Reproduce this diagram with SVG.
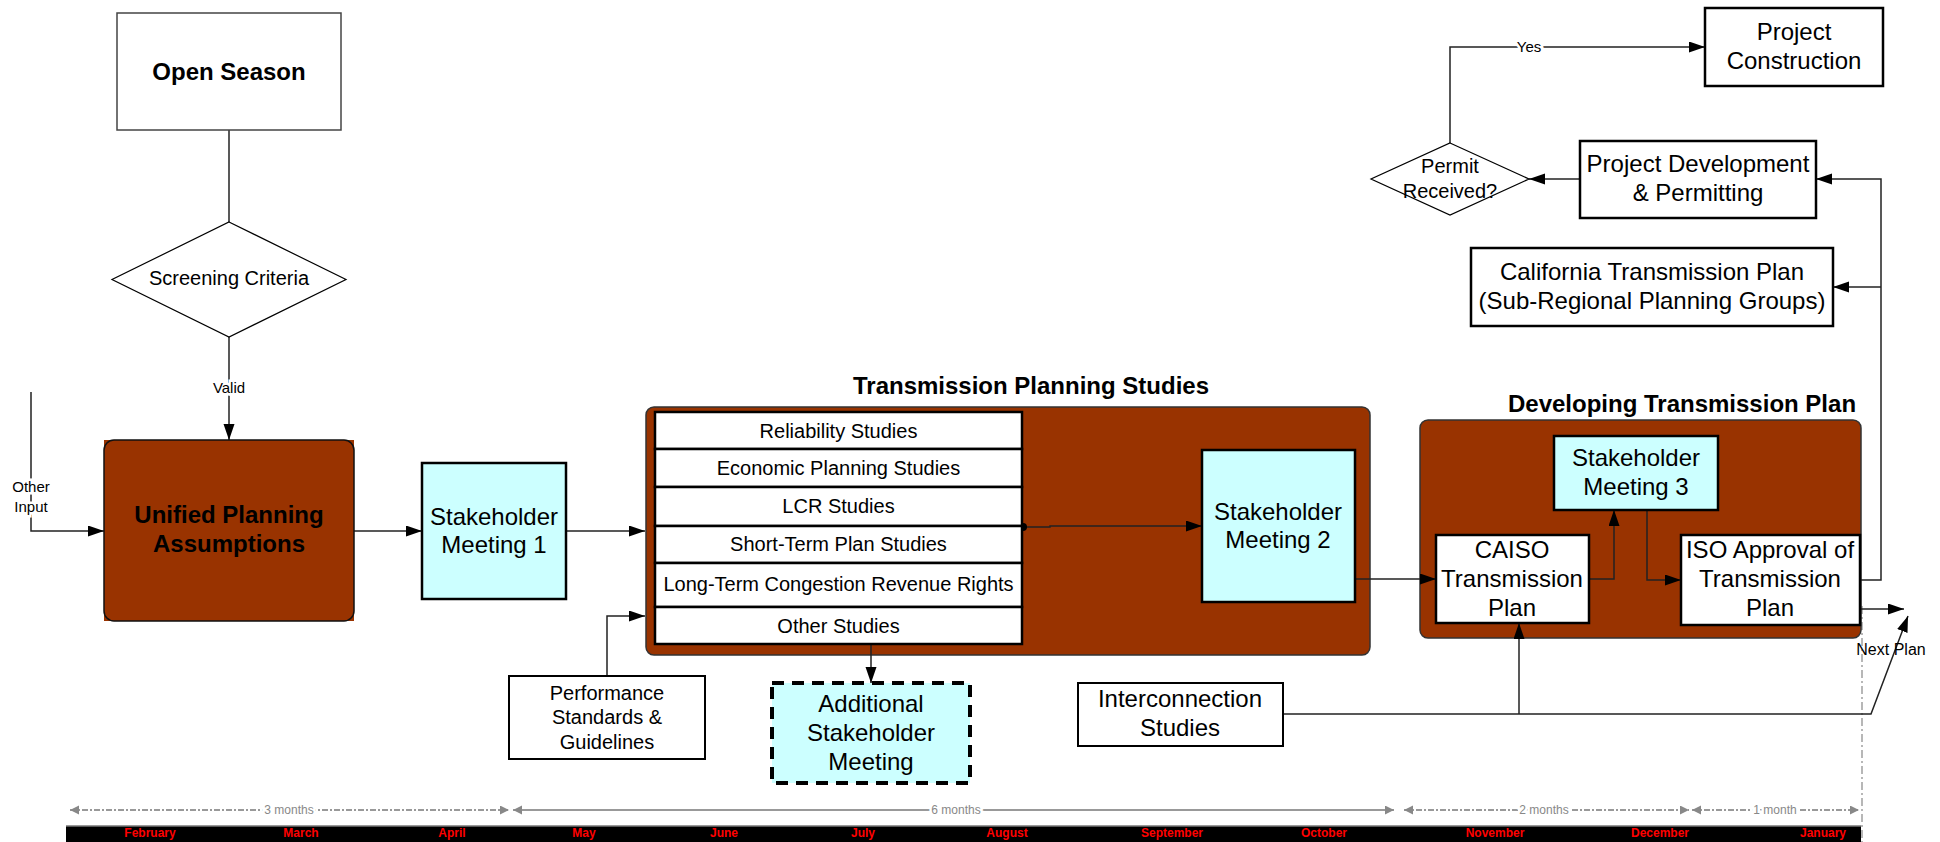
<svg xmlns="http://www.w3.org/2000/svg" width="1940" height="842" viewBox="0 0 1940 842">
<defs>
<style>
text{font-family:"Liberation Sans",Arial,sans-serif;fill:#000;text-anchor:middle}
.b{font-weight:bold}
.f24{font-size:24px}
.f20{font-size:20px}
.f15{font-size:15px}
.tl{font-size:12px;fill:#888}
.mo{font-size:12px;font-weight:bold;fill:#f00}
.halo{paint-order:stroke;stroke:#fff;stroke-width:5px}
.cn{fill:none;stroke:#222;stroke-width:1.5}
.wb{fill:#fff;stroke:#000;stroke-width:2.5}
.cy{fill:#ccffff;stroke:#000;stroke-width:2.5}
.br{fill:#993300}
.tla{fill:none;stroke:#999;stroke-width:2}
</style>
<marker id="a" markerUnits="userSpaceOnUse" markerWidth="16" markerHeight="12" refX="16" refY="5.5" orient="auto"><path d="M0,0 L16,5.5 L0,11 z" fill="#000"/></marker>
<marker id="t" markerUnits="userSpaceOnUse" markerWidth="10" markerHeight="10" refX="9" refY="4.5" orient="auto-start-reverse"><path d="M0,0 L9,4.5 L0,9 z" fill="#888"/></marker>
</defs>
<rect width="1940" height="842" fill="#fff"/>

<g id="timeline">
<rect x="66" y="826" width="1795" height="16" fill="#000"/>
<line x1="66" y1="826" x2="1861" y2="826" stroke="#777" stroke-width="1.5"/>
<line x1="1862" y1="606" x2="1862" y2="842" stroke="#888" stroke-width="1.2" stroke-dasharray="8 3 2 3"/>
<path class="tla" d="M70,810 H509" stroke-dasharray="6 2 2 2" marker-start="url(#t)" marker-end="url(#t)"/>
<path class="tla" d="M513,810 H1394" marker-start="url(#t)" marker-end="url(#t)"/>
<path class="tla" d="M1404,810 H1689" stroke-dasharray="6 2 2 2" marker-start="url(#t)" marker-end="url(#t)"/>
<path class="tla" d="M1692,810 H1859" stroke-dasharray="6 2 2 2" marker-start="url(#t)" marker-end="url(#t)"/>
<text class="tl halo" x="289" y="814">3 months</text>
<text class="tl halo" x="956" y="814">6 months</text>
<text class="tl halo" x="1544" y="814">2 months</text>
<text class="tl halo" x="1775" y="814">1 month</text>
<text class="mo" x="150" y="837">February</text>
<text class="mo" x="301" y="837">March</text>
<text class="mo" x="452" y="837">April</text>
<text class="mo" x="584" y="837">May</text>
<text class="mo" x="724" y="837">June</text>
<text class="mo" x="863" y="837">July</text>
<text class="mo" x="1007" y="837">August</text>
<text class="mo" x="1172" y="837">September</text>
<text class="mo" x="1324" y="837">October</text>
<text class="mo" x="1495" y="837">November</text>
<text class="mo" x="1660" y="837">December</text>
<text class="mo" x="1823" y="837">January</text>
</g>

<g id="tps-container">
<rect class="br" x="646" y="407" width="724" height="248" rx="8" stroke="#333" stroke-width="1.5"/>
<text class="b f24" x="1031" y="394">Transmission Planning Studies</text>
</g>
<g id="dtp-container">
<rect class="br" x="1420" y="420" width="441" height="218" rx="8" stroke="#333" stroke-width="1.5"/>
<text class="b f24" x="1682" y="412">Developing Transmission Plan</text>
</g>

<g id="connectors">
<path class="cn" d="M229,130 V222" stroke="#555"/>
<path class="cn" d="M229,337 V440" marker-end="url(#a)"/>
<path class="cn" d="M31,392 V531 H104" marker-end="url(#a)"/>
<path class="cn" d="M354,531 H422" marker-end="url(#a)"/>
<path class="cn" d="M566,531 H645" marker-end="url(#a)"/>
<path class="cn" d="M607,676 V616 H645" marker-end="url(#a)"/>
<path class="cn" d="M1023,527 H1050 V526 H1202" marker-end="url(#a)"/>
<circle cx="1023" cy="527" r="4" fill="#000"/>
<path class="cn" d="M871,644 V683" marker-end="url(#a)"/>
<path class="cn" d="M1355,579 H1436" marker-end="url(#a)"/>
<path class="cn" d="M1589,579 H1614 V510" marker-end="url(#a)"/>
<path class="cn" d="M1647,510 V580 H1681" marker-end="url(#a)"/>
<path class="cn" d="M1860,580 H1881 V179 H1816" marker-end="url(#a)" stroke="#555"/>
<path class="cn" d="M1881,287 H1833" marker-end="url(#a)" stroke="#555"/>
<path class="cn" d="M1580,179 H1529" marker-end="url(#a)"/>
<path class="cn" d="M1450,143 V47 H1705" marker-end="url(#a)" stroke="#444"/>
<path class="cn" d="M1853,609 H1904" marker-end="url(#a)" stroke="#333"/>
<path class="cn" d="M1283,714 H1871 L1908,616" marker-end="url(#a)"/>
<path class="cn" d="M1519,714 V623" marker-end="url(#a)"/>
<text class="f15 halo" x="229" y="393">Valid</text>
<text class="f15 halo" x="31" y="492">Other</text>
<text class="f15 halo" x="31" y="512">Input</text>
<text class="f15 halo" x="1529" y="52">Yes</text>
<text class="f15" x="1891" y="655" style="font-size:16px">Next Plan</text>
</g>

<g id="open-season">
<rect x="117" y="13" width="224" height="117" fill="#fff" stroke="#444" stroke-width="1.5"/>
<text class="b f24" x="229" y="80">Open Season</text>
</g>
<g id="screening-criteria">
<polygon points="229,222 346,279.5 229,337 112,279.5" fill="#fff" stroke="#000" stroke-width="1.2"/>
<text class="f20" x="229" y="285">Screening Criteria</text>
</g>
<g id="unified-planning">
<rect class="br" x="104" y="440" width="250" height="181"/>
<rect x="104" y="440" width="250" height="181" rx="10" fill="none" stroke="#111" stroke-width="1.5"/>
<text class="b f24" x="229" y="523">Unified Planning</text>
<text class="b f24" x="229" y="552">Assumptions</text>
</g>
<g id="stakeholder-1">
<rect class="cy" x="422" y="463" width="144" height="136"/>
<text class="f24" x="494" y="525">Stakeholder</text>
<text class="f24" x="494" y="553">Meeting 1</text>
</g>
<g id="performance-standards">
<rect x="509" y="676" width="196" height="83" fill="#fff" stroke="#000" stroke-width="2"/>
<text class="f20" x="607" y="700">Performance</text>
<text class="f20" x="607" y="724">Standards &amp;</text>
<text class="f20" x="607" y="749">Guidelines</text>
</g>
<g id="studies">
<rect class="wb" x="655" y="412" width="367" height="37"/>
<rect class="wb" x="655" y="449" width="367" height="38"/>
<rect class="wb" x="655" y="487" width="367" height="39"/>
<rect class="wb" x="655" y="526" width="367" height="37"/>
<rect class="wb" x="655" y="563" width="367" height="44"/>
<rect class="wb" x="655" y="607" width="367" height="37"/>
<text class="f20" x="838.5" y="438">Reliability Studies</text>
<text class="f20" x="838.5" y="475">Economic Planning Studies</text>
<text class="f20" x="838.5" y="513">LCR Studies</text>
<text class="f20" x="838.5" y="551">Short-Term Plan Studies</text>
<text class="f20" x="838.5" y="591">Long-Term Congestion Revenue Rights</text>
<text class="f20" x="838.5" y="633">Other Studies</text>
</g>
<g id="stakeholder-2">
<rect class="cy" x="1202" y="450" width="153" height="152"/>
<text class="f24" x="1278" y="520">Stakeholder</text>
<text class="f24" x="1278" y="548">Meeting 2</text>
</g>
<g id="additional-stakeholder">
<rect x="772" y="683" width="198" height="100" fill="#ccffff" stroke="#000" stroke-width="4" stroke-dasharray="12 8"/>
<text class="f24" x="871" y="712">Additional</text>
<text class="f24" x="871" y="741">Stakeholder</text>
<text class="f24" x="871" y="770">Meeting</text>
</g>
<g id="interconnection">
<rect x="1078" y="683" width="205" height="63" fill="#fff" stroke="#000" stroke-width="2"/>
<text class="f24" x="1180" y="707">Interconnection</text>
<text class="f24" x="1180" y="736">Studies</text>
</g>
<g id="stakeholder-3">
<rect class="cy" x="1554" y="436" width="164" height="74"/>
<text class="f24" x="1636" y="466">Stakeholder</text>
<text class="f24" x="1636" y="495">Meeting 3</text>
</g>
<g id="caiso-plan">
<rect class="wb" x="1436" y="535" width="153" height="88"/>
<text class="f24" x="1512" y="558">CAISO</text>
<text class="f24" x="1512" y="587">Transmission</text>
<text class="f24" x="1512" y="616">Plan</text>
</g>
<g id="iso-approval">
<rect class="wb" x="1681" y="535" width="179" height="90"/>
<text class="f24" x="1770" y="558">ISO Approval of</text>
<text class="f24" x="1770" y="587">Transmission</text>
<text class="f24" x="1770" y="616">Plan</text>
</g>
<g id="project-construction">
<rect class="wb" x="1705" y="8" width="178" height="78"/>
<text class="f24" x="1794" y="40">Project</text>
<text class="f24" x="1794" y="69">Construction</text>
</g>
<g id="permit-received">
<polygon points="1450,143 1529,179 1450,215 1371,179" fill="#fff" stroke="#000" stroke-width="1.2"/>
<text class="f20" x="1450" y="173">Permit</text>
<text class="f20" x="1450" y="198">Received?</text>
</g>
<g id="project-development">
<rect class="wb" x="1580" y="141" width="236" height="77"/>
<text class="f24" x="1698" y="172">Project Development</text>
<text class="f24" x="1698" y="201">&amp; Permitting</text>
</g>
<g id="california-plan">
<rect class="wb" x="1471" y="248" width="362" height="78"/>
<text class="f24" x="1652" y="280">California Transmission Plan</text>
<text class="f24" x="1652" y="309">(Sub-Regional Planning Groups)</text>
</g>
</svg>
